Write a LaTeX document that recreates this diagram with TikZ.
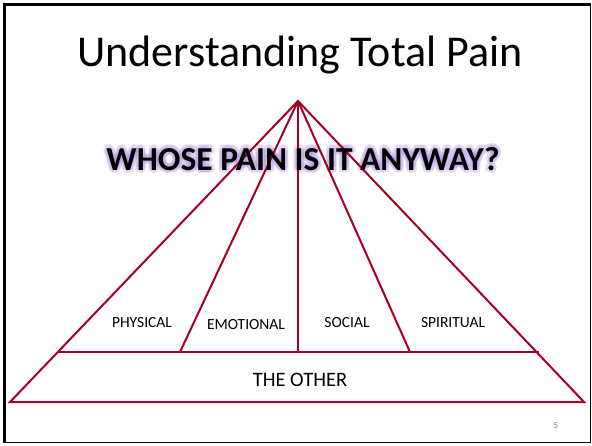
\documentclass[tikz,border=0pt]{standalone}
\usepackage{fontspec}
\setmainfont{Carlito}
\usetikzlibrary{calc}
\definecolor{pyrred}{RGB}{165,0,33}
\definecolor{glowpurple}{RGB}{165,130,220}

\begin{document}
\begin{tikzpicture}[x=1pt,y=-1pt]
    \tikzset{edge/.style={draw=pyrred,line width=2pt,line join=miter}}
    \tikzset{part/.style={font=\fontsize{15.5}{18}\selectfont,inner sep=0pt,anchor=base}}
    \tikzset{asks/.style={font=\fontsize{33.5}{40}\selectfont\bfseries,inner sep=0pt,anchor=base}}
    \tikzset{glow/.style={asks,text=glowpurple,opacity=0.22}}
    \useasboundingbox (0,0) rectangle (592,445);

    % Frame
    \draw[line width=1pt] (3.5,3.5) rectangle (590.5,442.5);
    \draw[line width=3pt] (4,442.5) -- (4,4) -- (590.5,4);

    % Title
    \node[anchor=base,inner sep=0pt] (title) at (300,66) {\fontsize{44}{50}\selectfont Understanding Total Pain};

    % Question (with glow)
    \foreach \a in {0,45,...,315}
        \node[glow] (glow\a) at ($(303,170)+(\a:3.5)$) {WHOSE PAIN IS IT ANYWAY?};

    % Pyramid
    \coordinate (apex) at (298,101);
    \coordinate (bl) at (10,402);
    \coordinate (br) at (584,402);
    \coordinate (il) at (58,352);
    \coordinate (ir) at (539,352);
    \coordinate (d1) at (180,352);
    \coordinate (d2) at (298,352);
    \coordinate (d3) at (410,352);
    \draw[edge] (bl) -- (apex) -- (br) -- cycle;
    \draw[edge] (il) -- (ir);
    \draw[edge] (apex) -- (d1);
    \draw[edge] (apex) -- (d2);
    \draw[edge] (apex) -- (d3);

    \node[asks] (whose) at (303,170) {WHOSE PAIN IS IT ANYWAY?};

    % Parts
    \node[part] (physical) at (142,327) {PHYSICAL};
    \node[part] (emotional) at (246,329) {EMOTIONAL};
    \node[part] (social) at (347,327) {SOCIAL};
    \node[part] (spiritual) at (453,327) {SPIRITUAL};
    \node[part,font=\fontsize{20.5}{24}\selectfont] (other) at (300,386) {THE OTHER};

    \node[text=gray,font=\fontsize{9}{10}\selectfont] (pagenum) at (556,426) {5};
\end{tikzpicture}
\end{document}
